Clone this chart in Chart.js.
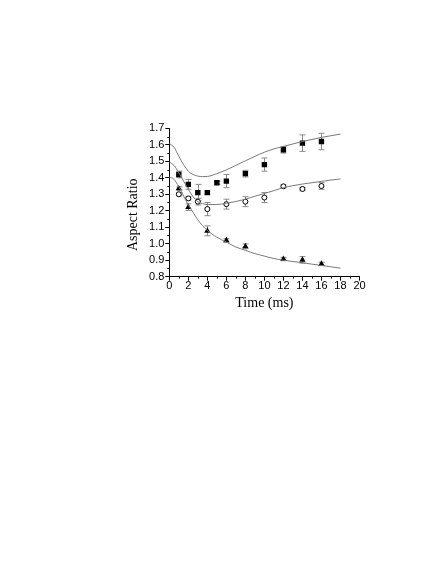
<!DOCTYPE html>
<html>
<head>
  <meta charset="UTF-8">
  <title>Aspect Ratio vs Time</title>
  <style>
    html, body { margin: 0; padding: 0; background: #fff; }
    #chart { display: block; }
  </style>
</head>
<body>
  <canvas id="chart" width="443" height="573"></canvas>

  <script src="https://cdn.jsdelivr.net/npm/chart.js"></script>
  <script>
    // measured points (filled squares, open circles, filled triangles)
    const squareX   = [1, 2, 3, 4, 5, 6, 8, 10, 12, 14, 16];
    const squareY   = [1.42, 1.36, 1.31, 1.31, 1.37, 1.38, 1.425, 1.48, 1.57, 1.61, 1.62];
    const squareErr = [0.02, 0.03, 0.05, 0.01, 0.01, 0.04, 0.02, 0.04, 0.02, 0.05, 0.05];

    const circleX   = [1, 2, 3, 4, 6, 8, 10, 12, 14, 16];
    const circleY   = [1.30, 1.275, 1.255, 1.21, 1.24, 1.255, 1.28, 1.348, 1.332, 1.35];
    const circleErr = [0.01, 0.01, 0.02, 0.04, 0.03, 0.03, 0.03, 0.01, 0.01, 0.02];

    const triX   = [1, 2, 4, 6, 8, 12, 14, 16];
    const triY   = [1.335, 1.222, 1.078, 1.02, 0.984, 0.907, 0.902, 0.878];
    const triErr = [0.01, 0.02, 0.03, 0.01, 0.015, 0.01, 0.02, 0.01];

    // fitted curves
    const fitX      = [0, 0.5, 1, 1.5, 2, 2.5, 3, 3.5, 4, 5, 6, 7, 8, 9, 10, 11, 12, 13, 14, 15, 16, 17, 18];
    const fitTop    = [1.607, 1.585, 1.53, 1.48, 1.44, 1.42, 1.41, 1.407, 1.408, 1.425, 1.448, 1.475, 1.503, 1.53, 1.555, 1.575, 1.59, 1.605, 1.62, 1.632, 1.645, 1.655, 1.665];
    const fitMid    = [1.495, 1.475, 1.43, 1.38, 1.33, 1.285, 1.255, 1.243, 1.238, 1.238, 1.245, 1.256, 1.27, 1.288, 1.305, 1.322, 1.34, 1.352, 1.362, 1.37, 1.378, 1.386, 1.393];
    const fitBottom = [1.405, 1.39, 1.345, 1.29, 1.235, 1.19, 1.145, 1.11, 1.08, 1.04, 1.01, 0.98, 0.96, 0.94, 0.925, 0.91, 0.9, 0.892, 0.885, 0.876, 0.868, 0.86, 0.852];

    const xTicks = { min: 0, max: 20, step: 2 };
    const yTicks = { min: 0.8, max: 1.7, step: 0.1 };

    const pts = (xs, ys) => xs.map((x, i) => ({ x: x, y: ys[i] }));

    const fitStyle = {
      type: 'line', showLine: true, borderColor: '#7a7a7a', borderWidth: 1,
      pointRadius: 0, cubicInterpolationMode: 'monotone', fill: false
    };

    // gray error bars behind the markers
    const errorBars = {
      id: 'errorBars',
      beforeDatasetsDraw(chart) {
        const { ctx, scales: { x, y } } = chart;
        const sets = [[squareX, squareY, squareErr], [circleX, circleY, circleErr], [triX, triY, triErr]];
        ctx.save();
        ctx.strokeStyle = '#8a8a8a';
        ctx.lineWidth = 1;
        sets.forEach(([xs, ys, es]) => {
          xs.forEach((xv, i) => {
            const px = Math.round(x.getPixelForValue(xv)) + 0.5;
            const top = y.getPixelForValue(ys[i] + es[i]);
            const bot = y.getPixelForValue(ys[i] - es[i]);
            ctx.beginPath();
            ctx.moveTo(px, top); ctx.lineTo(px, bot);
            ctx.moveTo(px - 3, top); ctx.lineTo(px + 3, top);
            ctx.moveTo(px - 3, bot); ctx.lineTo(px + 3, bot);
            ctx.stroke();
          });
        });
        ctx.restore();
      }
    };

    // Origin-style minor ticks half way between the majors
    const minorTicks = {
      id: 'minorTicks',
      afterDraw(chart) {
        const { ctx, chartArea, scales: { x, y } } = chart;
        ctx.save();
        ctx.strokeStyle = '#000';
        ctx.lineWidth = 1;
        ctx.beginPath();
        for (let v = xTicks.min + xTicks.step / 2; v < xTicks.max; v += xTicks.step) {
          const px = Math.round(x.getPixelForValue(v)) + 0.5;
          ctx.moveTo(px, chartArea.bottom); ctx.lineTo(px, chartArea.bottom + 2);
        }
        for (let v = yTicks.min + yTicks.step / 2; v < yTicks.max; v += yTicks.step) {
          const py = Math.round(y.getPixelForValue(v)) + 0.5;
          ctx.moveTo(chartArea.left, py); ctx.lineTo(chartArea.left - 2, py);
        }
        ctx.stroke();
        ctx.restore();
      }
    };

    new Chart(document.getElementById('chart'), {
      type: 'scatter',
      data: {
        datasets: [
          { ...fitStyle, data: pts(fitX, fitTop) },
          { ...fitStyle, data: pts(fitX, fitMid) },
          { ...fitStyle, data: pts(fitX, fitBottom) },
          { data: pts(squareX, squareY), pointStyle: 'rect', pointRadius: 3.8,
            backgroundColor: '#000', borderColor: '#000', borderWidth: 0 },
          { data: pts(circleX, circleY), pointStyle: 'circle', pointRadius: 2.5,
            backgroundColor: '#fff', borderColor: '#000', borderWidth: 1 },
          { data: pts(triX, triY), pointStyle: 'triangle', pointRadius: 3.6,
            backgroundColor: '#000', borderColor: '#000', borderWidth: 0 }
        ]
      },
      options: {
        responsive: false,
        animation: false,
        events: [],
        layout: { padding: { left: 125, right: 83.5, top: 128.3, bottom: 261 } },
        plugins: { legend: { display: false }, tooltip: { enabled: false } },
        scales: {
          x: {
            type: 'linear', min: xTicks.min, max: xTicks.max,
            afterFit: s => { s.height = 35.3; },
            ticks: { stepSize: xTicks.step, color: '#000', padding: -1,
                     font: { family: 'Liberation Sans', size: 11 } },
            grid: { drawOnChartArea: false, color: '#000', tickLength: 4 },
            border: { color: '#000', width: 1 },
            title: { display: true, text: 'Time (ms)', color: '#000', padding: 0,
                     font: { family: 'Liberation Serif', size: 14 } }
          },
          y: {
            type: 'linear', min: yTicks.min, max: yTicks.max,
            afterFit: s => { s.width = 44.3; },
            ticks: { stepSize: yTicks.step, color: '#000', padding: 1,
                     font: { family: 'Liberation Sans', size: 11 },
                     callback: v => v.toFixed(1) },
            grid: { drawOnChartArea: false, color: '#000', tickLength: 4 },
            border: { color: '#000', width: 1 },
            // trailing no-break spaces nudge the rotated title down like the original
            title: { display: true, text: 'Aspect Ratio\u00A0\u00A0\u00A0\u00A0\u00A0\u00A0\u00A0', color: '#000', padding: 0,
                     font: { family: 'Liberation Serif', size: 14 } }
          }
        }
      },
      plugins: [errorBars, minorTicks]
    });
  </script>
</body>
</html>
